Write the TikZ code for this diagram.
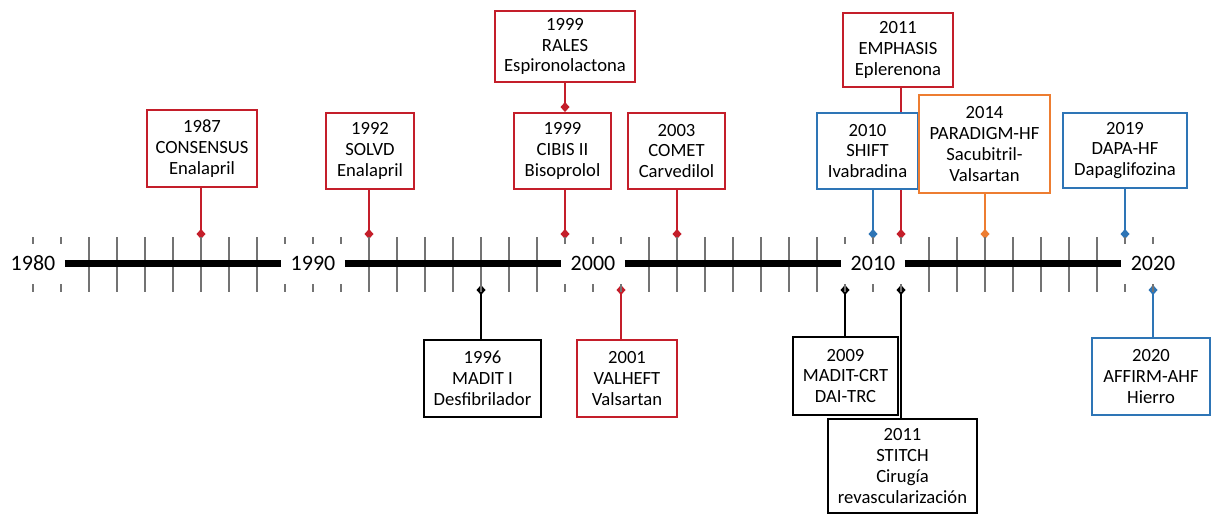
\documentclass[tikz,border=0pt]{standalone}
\usepackage{fontspec}
\setmainfont{Carlito}
\usepackage{xcolor}
\usetikzlibrary{arrows.meta, backgrounds}

\definecolor{trialred}{RGB}{196,30,42}
\definecolor{trialblue}{RGB}{46,117,182}
\definecolor{trialorange}{RGB}{237,125,49}

\begin{document}
\begin{tikzpicture}[
  trial/.style={draw, line width=1.1pt, fill=white, align=center, inner sep=1pt, font=\fontsize{10.6}{11.8}\selectfont},
  link/.style={line width=1.6pt, -{Diamond[length=2mm, width=1.8mm]}},
  decade/.style={fill=white, inner sep=0pt, minimum width=1.26cm, minimum height=0.8cm, font=\fontsize{12.5}{14}\selectfont},
  tickmark/.style={black!55, line width=0.6pt},
  axis/.style={line width=3.6pt}]
  \useasboundingbox (0,0) rectangle (24.4,-10.3);

  % year ticks
  \foreach \i in {0,...,40}
    \draw[tickmark] ({0.66+0.56*\i},-4.74) -- ++(0,-1.1);

  % decades
  \node[decade] (d1980) at (0.66,-5.27) {1980};
  \node[decade] (d1990) at (6.26,-5.27) {1990};
  \node[decade] (d2000) at (11.86,-5.27) {2000};
  \node[decade] (d2010) at (17.46,-5.27) {\raisebox{-0.1cm}{2010}};
  \node[decade] (d2020) at (23.06,-5.27) {2020};
  \draw[axis] (d1980) -- (d1990);
  \draw[axis] (d1990) -- (d2000);
  \draw[axis] (d2000) -- (d2010);
  \draw[axis] (d2010) -- (d2020);

  % points on the axis
  \coordinate (y87) at (4.02,-4.78);
  \coordinate (y92) at (7.38,-4.78);
  \coordinate (y99) at (11.30,-4.78);
  \coordinate (y03) at (13.54,-4.78);
  \coordinate (y10) at (17.46,-4.78);
  \coordinate (y11) at (18.02,-4.78);
  \coordinate (y14) at (19.70,-4.78);
  \coordinate (y19) at (22.50,-4.78);
  \coordinate (y96) at (9.62,-5.70);
  \coordinate (y01) at (12.42,-5.70);
  \coordinate (y09) at (16.90,-5.70);
  \coordinate (y11b) at (18.02,-5.70);
  \coordinate (y20) at (23.06,-5.70);

  % trials above
  \node[trial, draw=trialred, minimum width=2.2cm, minimum height=1.54cm] (consensus) at (4.04,-2.97) {1987\\CONSENSUS\\Enalapril};
  \node[trial, draw=trialred, minimum width=1.76cm, minimum height=1.52cm] (solvd) at (7.40,-3.02) {1992\\SOLVD\\Enalapril};
  \node[trial, draw=trialred, minimum width=2.8cm, minimum height=1.42cm] (rales) at (11.30,-0.93) {1999\\RALES\\Espironolactona};
  \node[trial, draw=trialred, minimum width=1.94cm, minimum height=1.52cm] (cibis) at (11.25,-3.02) {1999\\CIBIS II\\Bisoprolol};
  \node[trial, draw=trialred, minimum width=1.94cm, minimum height=1.52cm] (comet) at (13.53,-3.02) {2003\\COMET\\Carvedilol};
  \node[trial, draw=trialred, minimum width=2.2cm, minimum height=1.48cm] (emphasis) at (17.96,-1.00) {2011\\EMPHASIS\\Eplerenona};
  \node[trial, draw=trialblue, minimum width=2.02cm, minimum height=1.52cm] (shift) at (17.35,-3.02) {2010\\SHIFT\\Ivabradina};
  \node[trial, draw=trialorange, minimum width=2.62cm, minimum height=1.96cm] (paradigm) at (19.69,-2.88) {2014\\PARADIGM-HF\\Sacubitril-\\Valsartan};
  \node[trial, draw=trialblue, minimum width=2.48cm, minimum height=1.5cm] (dapa) at (22.50,-3.01) {2019\\DAPA-HF\\Dapaglifozina};

  % trials below
  \node[trial, draw=black, minimum width=2.34cm, minimum height=1.54cm] (maditi) at (9.65,-7.57) {1996\\MADIT I\\Desfibrilador};
  \node[trial, draw=trialred, minimum width=2.0cm, minimum height=1.54cm] (valheft) at (12.54,-7.57) {2001\\VALHEFT\\Valsartan};
  \node[trial, draw=black, minimum width=2.1cm, minimum height=1.56cm] (maditcrt) at (16.91,-7.52) {2009\\MADIT-CRT\\DAI-TRC};
  \node[trial, draw=black, minimum width=2.98cm, minimum height=1.88cm] (stitch) at (18.05,-9.32) {2011\\STITCH\\Cirugía\\revascularización};
  \node[trial, draw=trialblue, minimum width=2.36cm, minimum height=1.54cm] (affirm) at (23.02,-7.53) {2020\\AFFIRM-AHF\\Hierro};

  \begin{scope}[on background layer]
    \draw[link, trialred] (consensus.south -| y87) -- (y87);
    \draw[link, trialred] (solvd.south -| y92) -- (y92);
    \draw[link, trialred] (rales.south) -- (rales.south |- cibis.north);
    \draw[link, trialred] (cibis.south -| y99) -- (y99);
    \draw[link, trialred] (comet.south -| y03) -- (y03);
    \draw[link, trialred] (emphasis.south -| y11) -- (y11);
    \draw[link, trialblue] (shift.south -| y10) -- (y10);
    \draw[link, trialorange] (paradigm.south -| y14) -- (y14);
    \draw[link, trialblue] (dapa.south -| y19) -- (y19);
    \draw[link] (maditi.north -| y96) -- (y96);
    \draw[link, trialred] (valheft.north -| y01) -- (y01);
    \draw[link] (maditcrt.north -| y09) -- (y09);
    \draw[link] (stitch.north -| y11b) -- (y11b);
    \draw[link, trialblue] (affirm.north -| y20) -- (y20);
  \end{scope}
\end{tikzpicture}
\end{document}
